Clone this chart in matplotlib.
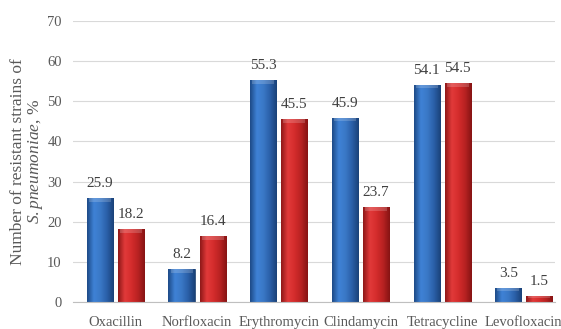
import matplotlib
matplotlib.use("Agg")
import matplotlib.pyplot as plt
import numpy as np
from matplotlib.colors import LinearSegmentedColormap

plt.rcParams['font.family'] = ['Liberation Serif', 'DejaVu Serif']
plt.rcParams['mathtext.fontset'] = 'custom'
plt.rcParams['mathtext.rm'] = 'Liberation Serif'
plt.rcParams['mathtext.it'] = 'Liberation Serif:italic'

categories = ["Oxacillin", "Norfloxacin", "Erythromycin", "Clindamycin", "Tetracycline", "Levofloxacin"]
series_blue = [25.9, 8.2, 55.3, 45.9, 54.1, 3.5]
series_red = [18.2, 16.4, 45.5, 23.7, 54.5, 1.5]
yticks = [0, 10, 20, 30, 40, 50, 60, 70]

fig = plt.figure(figsize=(5.61, 3.29), dpi=100)
ax = fig.add_axes([0.130, 0.082, 0.859, 0.854])

x = np.arange(len(categories))
w = 0.32
gap = 0.06

blue_cmap = LinearSegmentedColormap.from_list("b", ["#1d4a86", "#3f82d6", "#3a78c6", "#2a5fa8", "#1a4278"])
red_cmap = LinearSegmentedColormap.from_list("r", ["#8e1818", "#e23a3a", "#d42c2c", "#b82222", "#861414"])

grad = np.linspace(0, 1, 64).reshape(1, -1)

def draw(bars, cmap):
    for b in bars:
        b.set_facecolor('none')
        x0, y0 = b.get_x(), b.get_y()
        bw, bh = b.get_width(), b.get_height()
        im = ax.imshow(grad, cmap=cmap, aspect='auto', extent=[x0, x0 + bw, y0, y0 + bh],
                       zorder=2, interpolation='bicubic')
        im.set_clip_path(b)
        th = min(0.9, bh * 0.25)
        ax.fill_between([x0 + bw * 0.08, x0 + bw * 0.92], y0 + bh - th, y0 + bh,
                        color='white', alpha=0.18, zorder=3, linewidth=0)

bb = ax.bar(x - w / 2 - gap / 2, series_blue, w, zorder=2, edgecolor='#1a3f70', linewidth=0.6)
rb = ax.bar(x + w / 2 + gap / 2, series_red, w, zorder=2, edgecolor='#7a1212', linewidth=0.6)
draw(bb, blue_cmap)
draw(rb, red_cmap)

for xi, v in zip(x - w / 2 - gap / 2, series_blue):
    ax.text(xi, v + 2.0, f"{v}", ha='center', va='bottom', fontsize=11, color='#404040')
for xi, v in zip(x + w / 2 + gap / 2, series_red):
    ax.text(xi, v + 2.0, f"{v}", ha='center', va='bottom', fontsize=11, color='#404040')

ax.set_xlim(-0.52, 5.38)
ax.set_ylim(0, 70)
ax.set_yticks(yticks)
ax.set_yticklabels([str(t) for t in yticks])
ax.set_xticks(x)
ax.set_xticklabels(categories)
ax.tick_params(axis='both', length=0, labelsize=10.5, labelcolor='#595959')
ax.tick_params(axis='y', pad=8)
ax.tick_params(axis='x', pad=10)
ax.grid(axis='y', color='#d9d9d9', linewidth=0.8, zorder=0)
ax.set_axisbelow(True)
for s in ['top', 'right', 'left']:
    ax.spines[s].set_visible(False)
ax.spines['bottom'].set_color('#bfbfbf')
ax.spines['bottom'].set_linewidth(0.8)

ax.set_ylabel("Number of resistant strains of\n$\\it{S.pneumoniae}$, %", fontsize=12.5,
              color='#595959', linespacing=1.0)
ax.yaxis.set_label_coords(-0.058, 0.5)

fig.savefig("out.png", dpi=100)
